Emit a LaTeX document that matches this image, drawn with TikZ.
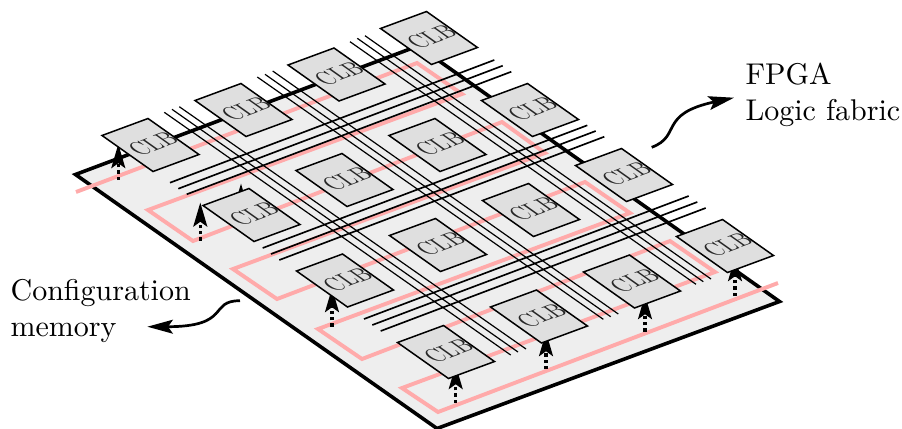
\documentclass[tikz,border=0pt]{standalone}
\usetikzlibrary{arrows.meta}
\definecolor{boardc}{HTML}{EEEEEE}
\definecolor{clbc}{HTML}{DFDFDF}
\definecolor{pinkc}{HTML}{FFAAAA}
\newcommand{\clbtext}{\raisebox{-0.4pt}{\hspace*{2.5pt}CLB}}
\tikzset{
  x=0.3333pt,y=-0.3333pt,
  board/.style={fill=boardc,draw=black,line width=1.2pt,line join=miter},
  cfgline/.style={draw=pinkc,line width=1.3pt,line join=miter},
  vwire/.style={draw=black,line width=0.4pt},
  hwire/.style={draw=black,line width=0.55pt},
  clb/.style={draw=black,fill=clbc,line width=0.5pt,rectangle,inner sep=0pt,
    text=black!85,
    minimum width=23.3pt,minimum height=24pt,
    cm={0.658,0.243,-0.708,0.5,(0,0)},transform shape},
  cfgarrow/.style={line width=1.1pt,dash pattern=on 1.1pt off 1pt,
    -{Stealth[length=8pt,width=4.6pt,inset=1.6pt]}},
  curvearrow/.style={line width=0.9pt,-{Stealth[length=8.5pt,width=4.6pt,inset=1.6pt]}},
  lbl/.style={align=left,inner sep=0pt,anchor=west}
}
\begin{document}
\begin{tikzpicture}
\useasboundingbox (0,0) rectangle (902,428);
\draw[board] (75.5,174.5) -- (418,46) -- (779.5,301.5) -- (437,428.5) -- cycle;
% configuration chain
\draw[cfgline] (76,192) -- (417,63) -- (462,94) -- (148,210) -- (193,241)
  -- (502,122) -- (545,153) -- (233,269) -- (277,299) -- (585,182) -- (630,213)
  -- (318,329) -- (362,359) -- (670,241) -- (715,272) -- (402,388) -- (438,412) -- (778,283);
% routing wires, columns
\draw[vwire] (164.3,112.3) -- (510.7,355);
\draw[vwire] (172,109.3) -- (518,352);
\draw[vwire] (179.3,106.7) -- (526,349);
\draw[vwire] (257.3,77) -- (603.3,319.3);
\draw[vwire] (265,74.3) -- (610.7,316.7);
\draw[vwire] (272.7,71) -- (618.3,314);
\draw[vwire] (350,41.7) -- (696,284.3);
\draw[vwire] (357.3,38.3) -- (703.3,281.7);
\draw[vwire] (365,35.7) -- (711,279);
% routing wires, rows
\draw[hwire] (170,182.7) -- (494.3,60);
\draw[hwire] (178.3,188.7) -- (502.7,65.7);
\draw[hwire] (186.7,194.3) -- (511.3,71.7);
\draw[hwire] (262.7,248) -- (587.3,125.3);
\draw[hwire] (271,254) -- (595.7,131);
\draw[hwire] (279.3,260) -- (604.3,136.7);
\draw[hwire] (364,319) -- (688.7,196);
\draw[hwire] (372.3,325) -- (697.3,202);
\draw[hwire] (380.7,331) -- (705.7,208);
% configuration arrows
\draw[cfgarrow] (118.3,180) -- (118.3,144);
\draw[cfgarrow] (200.3,240.7) -- (200.3,202.5);
\draw[cfgarrow] (241,222) -- (241,183.5);
\draw[cfgarrow] (332,326.7) -- (332,288);
\draw[cfgarrow] (455.7,403) -- (455.7,365);
\draw[cfgarrow] (546,369.3) -- (546,332);
\draw[cfgarrow] (645,331.7) -- (645,295);
\draw[cfgarrow] (735,296) -- (735,257);
% logic blocks
\node[clb] (a0) at (150.5,145) {\clbtext};
\node[clb] (a1) at (243.5,110) {\clbtext};
\node[clb] (a2) at (336.5,74.5) {\clbtext};
\node[clb] (a3) at (429,38) {\clbtext};
\node[clb] (b0) at (251.5,215) {\clbtext};
\node[clb] (b1) at (344.5,180) {\clbtext};
\node[clb] (b2) at (437.5,145) {\clbtext};
\node[clb] (b3) at (530,110) {\clbtext};
\node[clb] (c0) at (345,280.5) {\clbtext};
\node[clb] (c1) at (438,245) {\clbtext};
\node[clb] (c2) at (531,210) {\clbtext};
\node[clb] (c3) at (624,175) {\clbtext};
\node[clb] (d0) at (446,352) {\clbtext};
\node[clb] (d1) at (539,316.5) {\clbtext};
\node[clb] (d2) at (632,281.5) {\clbtext};
\node[clb] (d3) at (725,246) {\clbtext};
% labels
\node[lbl] (fpga) at (745,95) {FPGA\\Logic fabric};
\node[lbl] (config) at (10,311) {Configuration\\memory};
\coordinate (fs) at (651.7,147.3);
\coordinate (fe) at (734,97.7);
\coordinate (cs) at (240,300.7);
\coordinate (ce) at (147.3,326.7);
\draw[curvearrow] (fs) .. controls (682,136) and (658,114) .. (fe);
\draw[curvearrow] (cs) .. controls (208,300.7) and (232,326.7) .. (ce);
\end{tikzpicture}
\end{document}
